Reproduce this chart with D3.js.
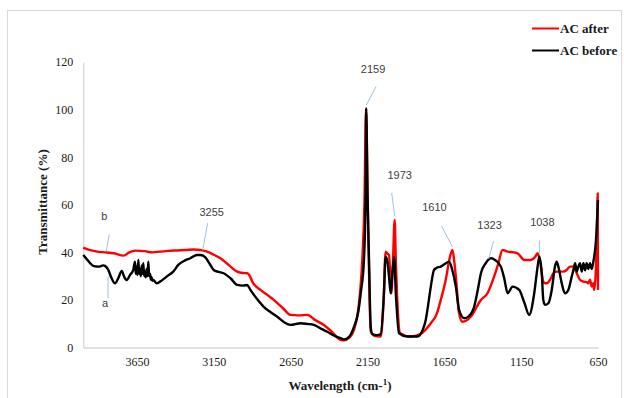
<!DOCTYPE html>
<html><head><meta charset="utf-8">
<script src="https://cdn.jsdelivr.net/npm/d3@7"></script>
<style>body{margin:0;background:#fff}svg{display:block}</style>
</head><body>
<svg id="c" width="624" height="398"></svg>
<script>
// ---- data ----
const xTicks = [3650, 3150, 2650, 2150, 1650, 1150, 650];
const yTicks = [0, 20, 40, 60, 80, 100, 120];
const seriesNames = ["AC after", "AC before"];
const seriesColors = ["#ff0000", "#000000"];

const acAfter = [
[4000,42],[3960,41],[3900,40.2],[3857,40],[3800,39.6],[3737,38.6],[3700,40],[3661,40.7],[3600,40.5],[3550,40.0],
[3498,40.3],[3450,40.6],[3400,40.8],[3330,41],[3280,41.2],[3237,41],[3194,40.3],[3150,39.0],[3107,37.5],[3050,34.5],
[2998,31.9],[2960,31.3],[2933,31.2],[2915,30],[2900,27.7],[2846,24.2],[2800,22],[2760,20],[2700,16.5],[2651,13.7],
[2600,13.5],[2542,13.7],[2490,11.5],[2434,9.5],[2380,6.5],[2325,3.2],[2303,3.0],[2270,4],[2238,7.4],[2210,16],
[2184,36.8],[2170,60],[2159,100.5],[2148,60],[2138,25],[2129,6.7],[2100,4.8],[2064,4.6],[2045,20],[2032,40.3],
[2020,39.5],[2010,38.9],[1995,22.8],[1985,35],[1973,53.6],[1965,35],[1958,22.8],[1937,6],[1872,4.6],[1807,5.6],
[1738,10.2],[1700,14],[1673,20],[1641,28.4],[1613,38.2],[1597,41],[1585,36],[1575,29.8],[1554,14.4],[1532,10.8],
[1478,12.9],[1412,20],[1369,22.8],[1326,29.8],[1300,35],[1271,41],[1238,40.3],[1200,40],[1173,39.6],[1130,36.8],
[1087,36.8],[1060,38],[1043,39.6],[1027,36],[1006,27.7],[995,27],[984,27],[962,28.4],[941,31.2],[919,31.9],
[897,31.9],[876,31.9],[854,32.6],[832,34],[810,34],[788,31.2],[767,28.4],[745,27.7],[724,27.5],[713,27],
[702,28.5],[691,25.6],[680,27],[675,24.2],[665,31.2],[658,45],[652,64.8],[650,24.2]
];

const acBefore = [
[4000,38.9],[3975,37.0],[3954,35.4],[3930,34.2],[3900,34.0],[3870,34.5],[3858,34.3],[3837,32.6],[3815,29.1],[3793,27.0],
[3772,29.1],[3749,32.2],[3734,29.8],[3717,28.4],[3695,30.5],[3674,32.6],[3663,36.1],[3658,31],[3652,34],[3647,30.5],
[3641,36.8],[3636,31],[3630,33],[3625,30],[3619,34.5],[3614,31],[3609,35.4],[3603,30],[3598,32],[3593,29.5],
[3587,33],[3582,30],[3576,36.1],[3571,30],[3565,31],[3560,28.5],[3555,29.5],[3550,28],[3544,28.4],[3522,27.0],
[3500,27.7],[3457,29.8],[3414,31.9],[3381,34.7],[3340,36.5],[3303,37.5],[3260,38.9],[3237,38.9],[3205,37.9],[3180,35.5],
[3151,32.6],[3120,31.8],[3086,31.2],[3040,29.0],[2998,26.3],[2960,26.0],[2933,26.3],[2912,24.2],[2870,20.5],[2825,17.1],
[2780,14.8],[2737,12.9],[2690,10.5],[2651,9.5],[2620,9.8],[2586,10.2],[2540,9.9],[2499,9.5],[2450,7.8],[2412,6.6],
[2360,4.8],[2325,3.9],[2303,3.4],[2270,4.5],[2238,8.7],[2210,15],[2194,22.8],[2173,36.8],[2162,64.8],[2159,100.5],
[2150,64],[2140,36.8],[2129,8.7],[2118,5.6],[2090,5.2],[2064,5.6],[2043,22.8],[2032,38.2],[2020,36],[2010,29.8],
[1999,22.8],[1988,31.2],[1977,38.2],[1965,22],[1945,6],[1890,4.6],[1825,4.6],[1790,7.5],[1771,11.6],[1755,18],
[1738,25.6],[1717,32.6],[1700,33.5],[1673,34],[1645,35.2],[1619,36.1],[1600,33],[1575,25.6],[1554,15.8],[1521,12.3],
[1490,13.2],[1456,17.1],[1430,25],[1412,31.2],[1380,35.5],[1347,37.5],[1320,36.8],[1282,34],[1260,29],[1238,22.8],
[1206,25.6],[1163,24.2],[1130,19],[1098,13.7],[1065,22.8],[1045,33],[1032,38.2],[1016,31.2],[1006,20],[995,17.9],
[973,18.6],[951,24.2],[930,34],[919,36.1],[908,34],[886,27],[865,22.8],[843,24.2],[821,29.8],[810,32.6],
[799,35.4],[788,31.9],[778,34],[767,35.4],[756,31.9],[745,35.4],[734,32.5],[724,35.4],[713,33],[702,35.4],
[691,33],[680,36.1],[669,41],[663,45.2],[655,55],[650,62]
];

// annotations: label text, anchor wavenumber/value
const annLabels = ["b", "a", "3255", "2159", "1973", "1610", "1323", "1038"];
const annWn =     [3850, 3845, 3255, 2159, 1973, 1610, 1323, 1038];
const annT =      [40, 30, 40.5, 100.5, 53.6, 41, 37.6, 39];

// ---- layout ----
const svg = d3.select("#c");
const x = d3.scaleLinear().domain([4000, 650]).range([83.2, 598]);
const y = d3.scaleLinear().domain([0, 120]).range([347.5, 62]);

svg.append("rect").attr("x", 7.5).attr("y", 10.5).attr("width", 614).attr("height", 400)
  .attr("fill", "none").attr("stroke", "#d9d9d9").attr("stroke-width", 1);

// axes
const xAxis = svg.append("g").attr("transform", "translate(0,347.5)")
  .call(d3.axisBottom(x).tickValues(xTicks).tickSize(0).tickPadding(10).tickFormat(d3.format("d")));
xAxis.select(".domain").attr("stroke", "#d9d9d9").attr("stroke-width", 1.3);
xAxis.selectAll("text").attr("font-family", "'Liberation Serif', 'Times New Roman', serif")
  .attr("font-size", 12).attr("fill", "#1a1a1a");

const yAxis = svg.append("g").attr("transform", "translate(83.2,0)")
  .call(d3.axisLeft(y).tickValues(yTicks).tickSize(0).tickPadding(10));
yAxis.select(".domain").attr("stroke", "#d9d9d9").attr("stroke-width", 1.3);
yAxis.selectAll("text").attr("font-family", "'Liberation Serif', 'Times New Roman', serif")
  .attr("font-size", 12).attr("fill", "#1a1a1a");

// lines
const line = d3.line().x(d => x(d[0])).y(d => y(d[1])).curve(d3.curveMonotoneX);
[acAfter, acBefore].forEach((s, i) => {
  svg.append("path").datum(s).attr("d", line).attr("fill", "none")
    .attr("stroke", seriesColors[i]).attr("stroke-width", 2.4).attr("stroke-linejoin", "round");
});

// annotations (offsets relative to anchor point)
const annDx = [-2, -2, 14, 7, 5, -16, -5, 4];
const annDy = [-35, 28, -38, -38, -44, -42, -32, -32];
const leadStart = [[0, -1], [1, 0], [5, -1], [0, -3], [0, -4], [2, -3], [-6, 1], [1, -1]];
const leadEnd = [[3, -18], [1, 22], [10, -28], [10, -22], [-3, -27], [-9, -24], [-1, -17], [1, -14]];
const ag = svg.append("g");
annLabels.forEach((lab, i) => {
  const ax = x(annWn[i]), ay = y(annT[i]);
  ag.append("line")
    .attr("x1", ax + leadStart[i][0]).attr("y1", ay + leadStart[i][1])
    .attr("x2", ax + leadEnd[i][0]).attr("y2", ay + leadEnd[i][1])
    .attr("stroke", "#9dc3e6").attr("stroke-width", 1);
  ag.append("text").attr("x", ax + annDx[i]).attr("y", ay + annDy[i])
    .attr("text-anchor", "middle").attr("dominant-baseline", "middle")
    .attr("font-family", "'Liberation Sans', Arial, sans-serif").attr("font-size", 11)
    .attr("fill", "#404040").text(lab);
});

// axis titles
svg.append("text").attr("transform", "translate(47,202) rotate(-90)")
  .attr("text-anchor", "middle").attr("font-family", "'Liberation Serif', 'Times New Roman', serif")
  .attr("font-weight", "bold").attr("font-size", 13).attr("fill", "#1a1a1a").text("Transmittance (%)");

const xt = svg.append("text").attr("x", 340).attr("y", 390).attr("text-anchor", "middle")
  .attr("font-family", "'Liberation Serif', 'Times New Roman', serif")
  .attr("font-weight", "bold").attr("font-size", 13).attr("fill", "#1a1a1a");
xt.append("tspan").text("Wavelength (cm-");
xt.append("tspan").attr("font-size", 9).attr("dy", -5).text("1");
xt.append("tspan").attr("dy", 5).text(")");

// legend
const lg = svg.append("g");
seriesNames.forEach((n, i) => {
  const ly = 28.5 + i * 22;
  lg.append("line").attr("x1", 532).attr("x2", 559).attr("y1", ly).attr("y2", ly)
    .attr("stroke", seriesColors[i]).attr("stroke-width", 2);
  lg.append("text").attr("x", 560).attr("y", ly + 4.5)
    .attr("font-family", "'Liberation Serif', 'Times New Roman', serif")
    .attr("font-weight", "bold").attr("font-size", 13).attr("fill", "#1a1a1a").text(n);
});
</script>
</body></html>
